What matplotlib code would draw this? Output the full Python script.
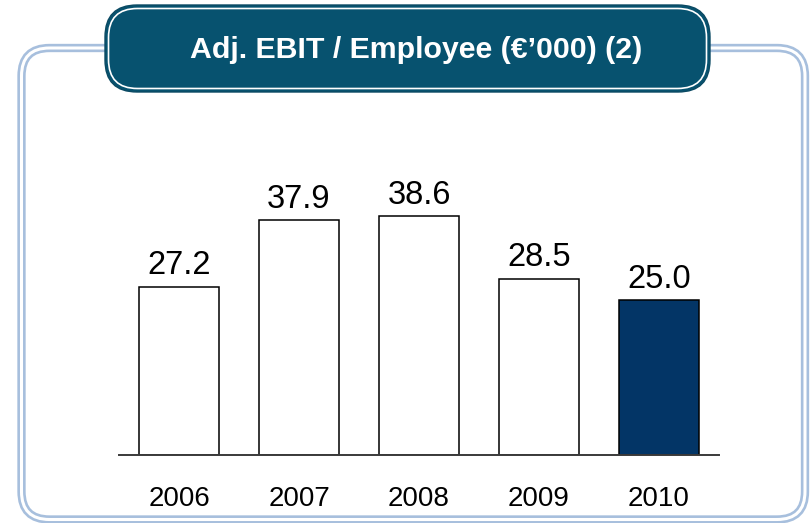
import matplotlib
matplotlib.use("Agg")
import matplotlib.pyplot as plt
from matplotlib.patches import FancyBboxPatch

plt.rcParams['font.family'] = ['Liberation Sans', 'DejaVu Sans']

# Data
years = ["2006", "2007", "2008", "2009", "2010"]
values = [27.2, 37.9, 38.6, 28.5, 25.0]
value_labels = ["27.2", "37.9", "38.6", "28.5", "25.0"]
bar_colors = ["white", "white", "white", "white", "#033566"]
title = "Adj. EBIT / Employee (\u20ac\u2019000) (2)"

W, H = 810, 523
fig = plt.figure(figsize=(W / 100, H / 100), dpi=100)

# Decorative layer in pixel coordinates
deco = fig.add_axes([0, 0, 1, 1])
deco.set_xlim(0, W)
deco.set_ylim(H, 0)
deco.axis("off")

# Outer frame: double light-blue rule
frame_kw = dict(boxstyle="round,pad=0,rounding_size=28", facecolor="none")
deco.add_patch(FancyBboxPatch((21.5, 48), 805 - 21.5, 519.5 - 48,
                              edgecolor="#a7bfdd", linewidth=6.0, **frame_kw))
deco.add_patch(FancyBboxPatch((21.5, 48), 805 - 21.5, 519.5 - 48,
                              edgecolor="white", linewidth=2.2, **frame_kw))

# Title box
deco.add_patch(FancyBboxPatch((105, 5), 710 - 105, 92 - 5,
                              boxstyle="round,pad=0,rounding_size=32",
                              facecolor="#07526f", edgecolor="#0b4a63", linewidth=1.0))
deco.add_patch(FancyBboxPatch((108.5, 8.5), 710 - 105 - 7, 92 - 5 - 7,
                              boxstyle="round,pad=0,rounding_size=29",
                              facecolor="none", edgecolor="white", linewidth=1.2))
deco.text(416, 58.5, title, color="white", fontsize=21.8, fontweight="bold",
          ha="center", va="baseline")

# Bar chart
ymax = 50.9
ax = fig.add_axes([119 / W, (H - 455) / H, 600 / W, (ymax * 6.19) / H])
ax.set_facecolor("none")
x = list(range(len(years)))
ax.bar(x, values, width=0.667, color=bar_colors, edgecolor="black", linewidth=1.1, zorder=2)
ax.set_xlim(-0.5, len(years) - 0.5)
ax.set_ylim(0, ymax)
for s in ["top", "right", "left"]:
    ax.spines[s].set_visible(False)
ax.spines["bottom"].set_color("#3a3a3a")
ax.spines["bottom"].set_linewidth(1.4)
ax.set_xticks([])
ax.set_yticks([])

for xi, v, lab in zip(x, values, value_labels):
    ax.annotate(lab, (xi, v), xytext=(0, 8.8), textcoords="offset points",
                ha="center", va="baseline", fontsize=23.5, color="black")

for xi, yr in zip(x, years):
    ax.annotate(yr, (xi, 0), xytext=(0, -36.5), textcoords="offset points",
                ha="center", va="baseline", fontsize=20, color="black")

fig.savefig("out.png", dpi=100)
